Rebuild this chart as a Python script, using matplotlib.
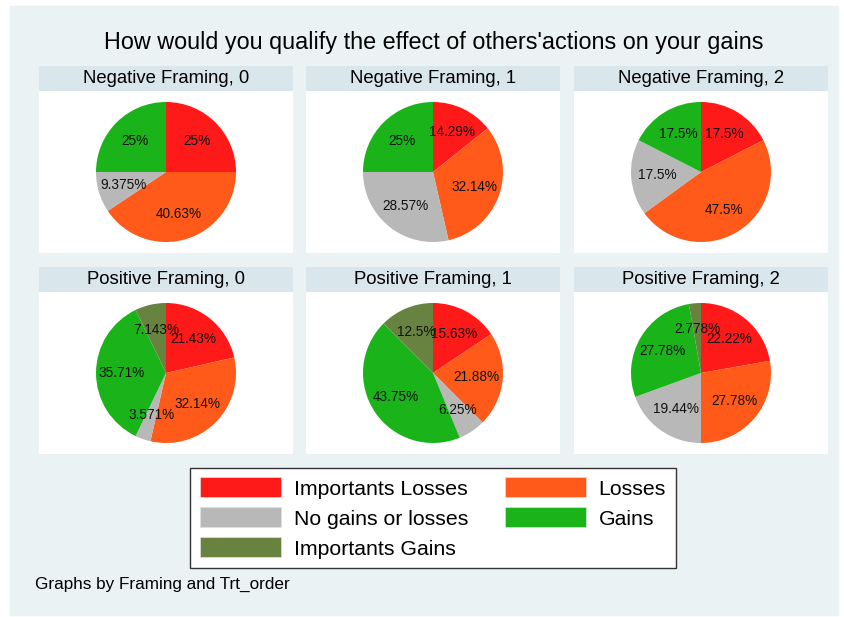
import matplotlib
matplotlib.use("Agg")
import matplotlib.pyplot as plt
import matplotlib.patches as mpatch

plt.rcParams["font.family"] = ["Liberation Sans", "DejaVu Sans"]

categories = ["Importants Losses", "Losses", "No gains or losses", "Gains", "Importants Gains"]
colors = ["#FF1A1A", "#FF5A1A", "#B8B8B8", "#1AB41A", "#688340"]

panel_titles = ["Negative Framing, 0", "Negative Framing, 1", "Negative Framing, 2",
                "Positive Framing, 0", "Positive Framing, 1", "Positive Framing, 2"]

# percent shares, same order as categories
neg0 = [25, 40.63, 9.375, 25, 0]
neg1 = [14.29, 32.14, 28.57, 25, 0]
neg2 = [17.5, 47.5, 17.5, 17.5, 0]
pos0 = [21.43, 32.14, 3.571, 35.71, 7.143]
pos1 = [15.63, 21.88, 6.25, 43.75, 12.5]
pos2 = [22.22, 27.78, 19.44, 27.78, 2.778]
panels = [neg0, neg1, neg2, pos0, pos1, pos2]

W, H = 845, 617
BG = "#EAF2F3"
BAND = "#D9E6EB"

fig = plt.figure(figsize=(W / 100, H / 100), dpi=100)
fig.patch.set_facecolor("white")


def fbox(x0, y0, x1, y1):
    # pixel box (top-left origin) -> figure fraction [l, b, w, h]
    return [x0 / W, 1 - y1 / H, (x1 - x0) / W, (y1 - y0) / H]


# outer graph region
fig.patches.append(mpatch.Rectangle((10 / W, 1 - 615 / H), 828 / W, 609 / H,
                                    transform=fig.transFigure, color=BG, zorder=-10))

fig.text(434 / W, 1 - 42 / H, "How would you qualify the effect of others'actions on your gains",
         ha="center", va="center", fontsize=16.8)

col_x = [39, 306, 574]
row_y = [66, 267]
pw, band_h, white_h = 254, 25, 162
R = 70.0

for i, vals in enumerate(panels):
    x0 = col_x[i % 3]
    y0 = row_y[i // 3]
    bax = fig.add_axes(fbox(x0, y0, x0 + pw, y0 + band_h))
    bax.set_facecolor(BAND)
    bax.set_xticks([]); bax.set_yticks([])
    for s in bax.spines.values():
        s.set_visible(False)
    bax.text(0.5, 0.5, panel_titles[i], ha="center", va="center", fontsize=13.3,
             transform=bax.transAxes)

    ax = fig.add_axes(fbox(x0, y0 + band_h, x0 + pw, y0 + band_h + white_h))

    v = [x for x in vals if x > 0]
    c = [colors[k] for k, x in enumerate(vals) if x > 0]
    labs = [f"{x:.4g}%" for x in v]
    ax.pie(v, colors=c, labels=labs, labeldistance=0.63, startangle=90,
           counterclock=False, radius=1.0,
           wedgeprops=dict(linewidth=0.5, edgecolor="none"),
           textprops=dict(ha="center", va="center", fontsize=9.8, color="#111111"))
    ax.set_frame_on(True)
    ax.set_facecolor("white")
    for s in ax.spines.values():
        s.set_visible(False)
    ax.set_xticks([]); ax.set_yticks([])
    ax.set_xlim(-pw / 2 / R, pw / 2 / R)
    ax.set_ylim(-white_h / 2 / R, white_h / 2 / R)
    ax.set_aspect("auto")

handles = [mpatch.Patch(facecolor=col, edgecolor="#E0E0E0", linewidth=0.5) for col in colors]
order = [0, 2, 4, 1, 3]
leg = fig.legend([handles[k] for k in order], [categories[k] for k in order],
                 loc="center", bbox_to_anchor=(433 / W, 1 - 518 / H), ncol=2,
                 fontsize=15.3, frameon=True, fancybox=False, edgecolor="#333333",
                 framealpha=1, facecolor="white",
                 handlelength=3.8, handleheight=1.05, handletextpad=0.6,
                 columnspacing=1.75, labelspacing=0.42, borderpad=0.45, borderaxespad=0)
leg.get_frame().set_linewidth(1.0)

fig.text(35 / W, 1 - 584 / H, "Graphs by Framing and Trt_order", ha="left", va="center",
         fontsize=12.3)

fig.savefig("out.png", dpi=100, facecolor=fig.get_facecolor())
